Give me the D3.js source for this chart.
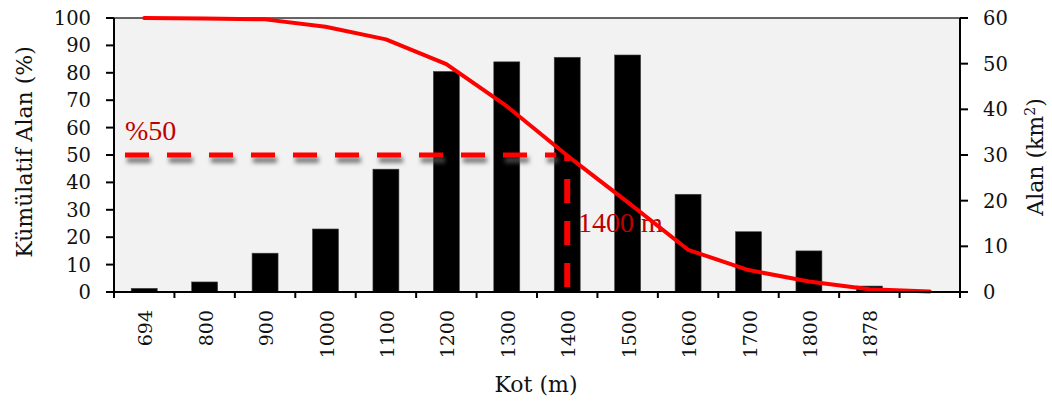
<!DOCTYPE html>
<html>
<head>
<meta charset="utf-8">
<script src="https://cdn.jsdelivr.net/npm/d3@7"></script>
<style>
  body { margin: 0; background: #fff; }
</style>
</head>
<body>
<div id="chart"></div>
<script>
// kategoriler (kot, m) - son bant boş
var categories = ["694", "800", "900", "1000", "1100", "1200", "1300", "1400", "1500", "1600", "1700", "1800", "1878", ""];
// alan (km2) - sağ eksen
var areaValues = [0.8, 2.2, 8.5, 13.8, 26.9, 48.3, 50.4, 51.4, 51.9, 21.4, 13.2, 9.0, 1.3];
// kümülatif alan (%) - sol eksen
var cumulValues = [100, 99.8, 99.5, 96.8, 92.2, 83.2, 67.8, 49.8, 32.8, 15.4, 8.0, 3.8, 1.0, 0.2];
// eksen değerleri
var leftTicks = [0, 10, 20, 30, 40, 50, 60, 70, 80, 90, 100];
var rightTicks = [0, 10, 20, 30, 40, 50, 60];
// %50 işareti
var halfLevel = 50;
var halfCategory = "1400";

var W = 1052, H = 404;
var pLeft = 114, pRight = 960, pTop = 18, pBottom = 292;

var x = d3.scaleBand().domain(categories).range([pLeft, pRight]).padding(0);
var yL = d3.scaleLinear().domain([0, 100]).range([pBottom, pTop]);
var yR = d3.scaleLinear().domain([0, 60]).range([pBottom, pTop]);
var bw = x.bandwidth();
var barW = bw * 0.43;

function cx(c) { return x(c) + bw / 2; }

var svg = d3.select("#chart").append("svg").attr("width", W).attr("height", H);

// gölge için bulanıklık filtresi
var defs = svg.append("defs");
defs.append("filter").attr("id", "blur")
    .attr("filterUnits", "userSpaceOnUse").attr("x", 0).attr("y", 0).attr("width", W).attr("height", H)
    .append("feGaussianBlur").attr("stdDeviation", 2.2);

// çizim alanı arka planı
svg.append("rect").attr("x", pLeft).attr("y", pTop).attr("width", pRight - pLeft).attr("height", pBottom - pTop)
    .attr("fill", "#f2f2f2");
svg.append("line").attr("x1", pLeft).attr("x2", pRight).attr("y1", pTop).attr("y2", pTop)
    .attr("stroke", "#333").attr("stroke-width", 1.5);

// sütunlar
svg.selectAll(".bar").data(areaValues).enter().append("rect")
    .attr("x", function (d, i) { return cx(categories[i]) - barW / 2; })
    .attr("y", function (d) { return yR(d); })
    .attr("width", barW)
    .attr("height", function (d) { return pBottom - yR(d); })
    .attr("fill", "#000").attr("stroke", "#444").attr("stroke-width", 0.6);

// etiketler
svg.append("text").attr("x", 125).attr("y", 140).text("%50")
    .attr("font-family", "Liberation Serif").attr("font-size", 28).attr("fill", "#c00000");
svg.append("text").attr("x", 578).attr("y", 232).text("1400 m")
    .attr("font-family", "Liberation Serif").attr("font-size", 28).attr("fill", "#c00000");

// kesikli çizgiler (yatay çizgi gölgeli)
var hx = cx(halfCategory);
svg.append("line").attr("x1", 127).attr("x2", hx - 9).attr("y1", yL(halfLevel) + 5).attr("y2", yL(halfLevel) + 5)
    .attr("stroke", "#555").attr("stroke-opacity", 0.75).attr("stroke-width", 6).attr("stroke-dasharray", "24,18")
    .attr("filter", "url(#blur)");
svg.append("line").attr("x1", 125).attr("x2", hx - 11).attr("y1", yL(halfLevel)).attr("y2", yL(halfLevel))
    .attr("stroke", "#ff0000").attr("stroke-width", 5).attr("stroke-dasharray", "24,18");
svg.append("line").attr("x1", hx).attr("x2", hx).attr("y1", pBottom - 5).attr("y2", yL(halfLevel))
    .attr("stroke", "#ff0000").attr("stroke-width", 6).attr("stroke-dasharray", "24,18");

// kümülatif eğri
var line = d3.line()
    .x(function (d, i) { return cx(categories[i]); })
    .y(function (d) { return yL(d); });
svg.append("path").attr("d", line(cumulValues)).attr("fill", "none")
    .attr("stroke", "#ff0000").attr("stroke-width", 4)
    .attr("stroke-linejoin", "round").attr("stroke-linecap", "round");

// eksenler
var axisFont = "DejaVu Serif";
svg.append("line").attr("x1", pLeft).attr("x2", pLeft).attr("y1", pTop).attr("y2", pBottom + 6).attr("stroke", "#000").attr("stroke-width", 2);
svg.append("line").attr("x1", pRight).attr("x2", pRight).attr("y1", pTop).attr("y2", pBottom + 6).attr("stroke", "#000").attr("stroke-width", 2);
svg.append("line").attr("x1", pLeft - 8).attr("x2", pRight + 8).attr("y1", pBottom).attr("y2", pBottom).attr("stroke", "#000").attr("stroke-width", 2);

// sol eksen
svg.selectAll(".lt").data(leftTicks).enter().append("line")
    .attr("x1", pLeft - 8).attr("x2", pLeft).attr("y1", yL).attr("y2", yL).attr("stroke", "#000").attr("stroke-width", 2);
svg.selectAll(".ll").data(leftTicks).enter().append("text")
    .attr("x", 91).attr("y", yL).attr("dy", "0.36em").attr("text-anchor", "end")
    .attr("font-family", axisFont).attr("font-size", 19.5).attr("fill", "#111").text(function (d) { return d; });

// sağ eksen
svg.selectAll(".rt").data(rightTicks).enter().append("line")
    .attr("x1", pRight).attr("x2", pRight + 8).attr("y1", yR).attr("y2", yR).attr("stroke", "#000").attr("stroke-width", 2);
svg.selectAll(".rl").data(rightTicks).enter().append("text")
    .attr("x", 983).attr("y", yR).attr("dy", "0.36em").attr("text-anchor", "start")
    .attr("font-family", axisFont).attr("font-size", 19.5).attr("fill", "#111").text(function (d) { return d; });

// alt eksen (bant sınırlarında çentik)
var bounds = categories.map(function (c) { return x(c); }).concat([pRight]);
svg.selectAll(".bt").data(bounds).enter().append("line")
    .attr("x1", function (d) { return d; }).attr("x2", function (d) { return d; })
    .attr("y1", pBottom).attr("y2", pBottom + 6).attr("stroke", "#000").attr("stroke-width", 2);
svg.selectAll(".bl").data(categories).enter().append("text")
    .attr("transform", function (d) { return "translate(" + (cx(d) + 8) + ",310) rotate(-90)"; })
    .attr("text-anchor", "end")
    .attr("font-family", axisFont).attr("font-size", 19).attr("fill", "#111").text(function (d) { return d; });

// eksen başlıkları
svg.append("text").attr("transform", "translate(32,152) rotate(-90)").attr("text-anchor", "middle")
    .attr("font-family", axisFont).attr("font-size", 22).attr("fill", "#111").text("Kümülatif Alan (%)");
var rt = svg.append("text").attr("transform", "translate(1043,157) rotate(-90)").attr("text-anchor", "middle")
    .attr("font-family", axisFont).attr("font-size", 22).attr("fill", "#111");
rt.append("tspan").text("Alan (km");
rt.append("tspan").attr("baseline-shift", "super").attr("font-size", 14).text("2");
rt.append("tspan").text(")");
svg.append("text").attr("x", 536).attr("y", 392).attr("text-anchor", "middle")
    .attr("font-family", axisFont).attr("font-size", 22).attr("fill", "#111").text("Kot (m)");
</script>
</body>
</html>
